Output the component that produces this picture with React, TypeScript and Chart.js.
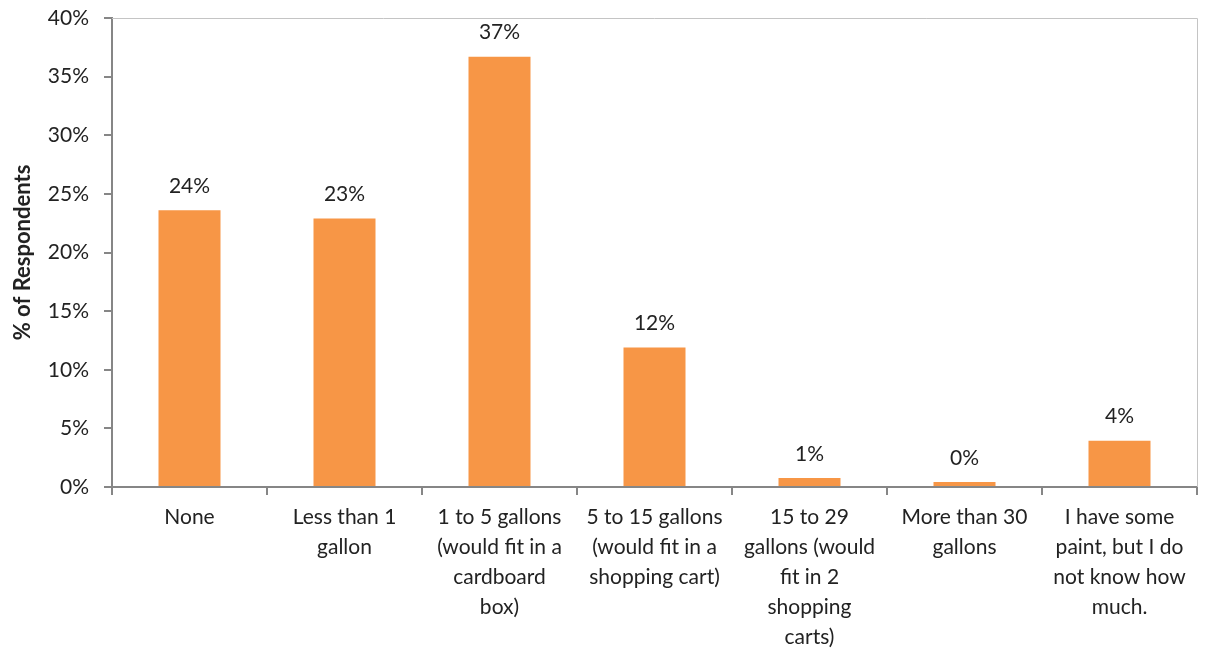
import React, { useEffect, useRef } from "react";
import { Chart, registerables } from "chart.js";

Chart.register(...registerables);

const categories: (string | string[])[] = [
  "None",
  ["Less than 1", "gallon"],
  ["1 to 5 gallons", "(would fit in a", "cardboard", "box)"],
  ["5 to 15 gallons", "(would fit in a", "shopping cart)"],
  ["15 to 29", "gallons (would", "fit in 2", "shopping", "carts)"],
  ["More than 30", "gallons"],
  ["I have some", "paint, but I do", "not know how", "much."],
];

const respondents: number[] = [23.6, 22.9, 36.7, 11.9, 0.77, 0.43, 3.95];
const valueLabels: string[] = ["24%", "23%", "37%", "12%", "1%", "0%", "4%"];

const yTitle = "% of Respondents";
const FONT = "Lato, 'Open Sans', sans-serif";
const TEXT = "#222222";

const labelPlugin = {
  id: "valueLabels",
  afterDatasetsDraw(chart: any) {
    const ctx = chart.ctx;
    const meta = chart.getDatasetMeta(0);
    ctx.save();
    ctx.font = `21px ${FONT}`;
    ctx.fillStyle = TEXT;
    ctx.textAlign = "center";
    ctx.textBaseline = "middle";
    meta.data.forEach((bar: any, i: number) => {
      ctx.fillText(valueLabels[i], bar.x, bar.y - 24);
    });
    ctx.restore();
  },
  afterDraw(chart: any) {
    const { ctx, chartArea } = chart;
    ctx.save();
    ctx.strokeStyle = "#c4c4c4";
    ctx.lineWidth = 1;
    ctx.beginPath();
    ctx.moveTo(chartArea.left, chartArea.top + 0.5);
    ctx.lineTo(chartArea.right + 0.5, chartArea.top + 0.5);
    ctx.lineTo(chartArea.right + 0.5, chartArea.bottom);
    ctx.stroke();
    ctx.restore();
  },
};

export default function App() {
  const ref = useRef<HTMLCanvasElement | null>(null);
  useEffect(() => {
    if (!ref.current) return;
    const chart = new Chart(ref.current, {
      type: "bar",
      data: {
        labels: categories,
        datasets: [
          {
            data: respondents,
            backgroundColor: "#F79646",
            barPercentage: 0.4,
            categoryPercentage: 1,
          },
        ],
      },
      options: {
        animation: false,
        responsive: false,
        layout: { padding: { left: 0, top: 18, right: 10, bottom: 0 } },
        plugins: { legend: { display: false }, tooltip: { enabled: false } },
        scales: {
          x: {
            offset: true,
            afterFit: (s: any) => {
              s.height = 166;
              s.paddingLeft = 0;
              s.paddingRight = 0;
            },
            grid: {
              offset: true,
              drawOnChartArea: false,
              drawTicks: true,
              tickLength: 8,
              color: "#868686",
              lineWidth: 2,
            },
            border: { color: "#868686", width: 2 },
            ticks: {
              autoSkip: false,
              maxRotation: 0,
              minRotation: 0,
              padding: 7,
              color: TEXT,
              font: { family: FONT, size: 21, lineHeight: 1.43 },
            },
          },
          y: {
            min: 0,
            max: 40,
            afterFit: (s: any) => {
              s.width = 112;
              s.paddingTop = 0;
              s.paddingBottom = 0;
            },
            grid: {
              drawOnChartArea: false,
              drawTicks: true,
              tickLength: 8,
              color: "#868686",
              lineWidth: 2,
            },
            border: { color: "#868686", width: 2 },
            ticks: {
              stepSize: 5,
              padding: 15,
              color: TEXT,
              font: { family: FONT, size: 21 },
              callback: (v: any) => `${v}%`,
            },
            title: {
              display: true,
              text: yTitle,
              color: TEXT,
              font: { family: FONT, size: 22, weight: "bold" },
              padding: { top: 10, bottom: 4 },
            },
          },
        },
      },
      plugins: [labelPlugin],
    });
    return () => chart.destroy();
  }, []);
  return (
    <div style={{ position: "fixed", left: 0, top: 0, width: 1207, height: 653, background: "#fff" }}>
      <canvas ref={ref} width={1207} height={653} style={{ width: 1207, height: 653 }} />
    </div>
  );
}
